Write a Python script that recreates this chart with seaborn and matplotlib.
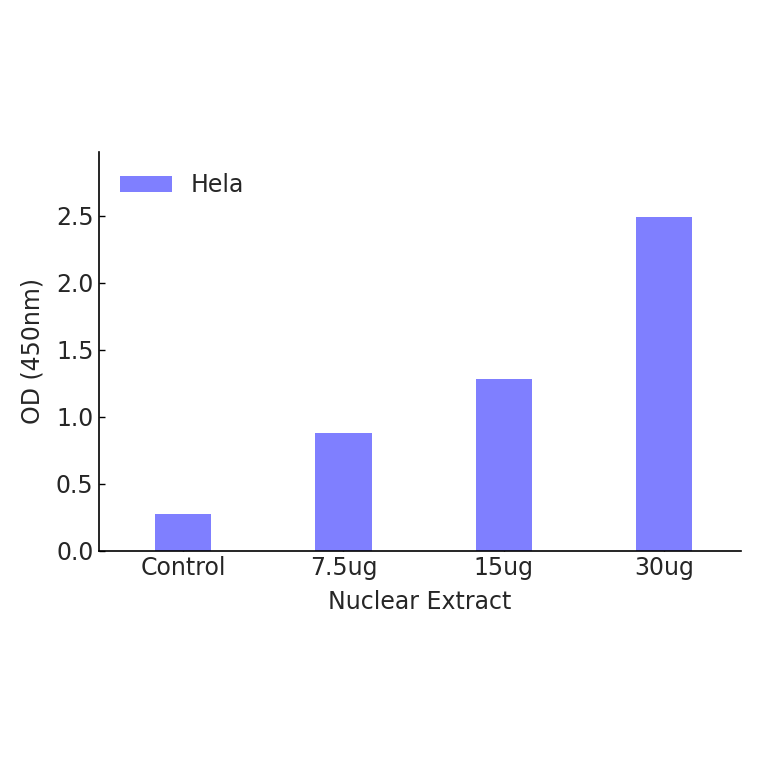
import numpy as np
import pandas as pd
import matplotlib
matplotlib.use('Agg')
import matplotlib.pyplot as plt
import seaborn as sns

## data
categories = ['Control', '7.5ug', '15ug', '30ug']
od_hela = [0.274, 0.878, 1.28, 2.49]
series_name = 'Hela'

df = pd.DataFrame({'sample': categories, 'OD': od_hela, 'cell': series_name})

sns.set_style('white')
plt.rcParams['font.family'] = ['DejaVu Sans']
plt.rcParams.update({'font.size': 17, 'text.color': '#262626',
                     'axes.labelcolor': '#262626'})

fig = plt.figure(figsize=(7.64, 7.64), dpi=100)
ax = fig.add_axes([0.1296, 0.279, 0.8404, 0.522])

sns.barplot(data=df, x='sample', y='OD', hue='cell', palette=['#7f7fff'],
            width=0.35, saturation=1, ax=ax, edgecolor='none')

ax.set_xlim(-0.525, 3.48)
ax.set_ylim(0, max(od_hela) * 1.195)
ax.set_yticks(np.arange(0, 2.51, 0.5))
ax.set_yticklabels([f'{v:.1f}' for v in np.arange(0, 2.51, 0.5)])

ax.spines['top'].set_visible(False)
ax.spines['right'].set_visible(False)
for s in ['left', 'bottom']:
    ax.spines[s].set_linewidth(1.2)
    ax.spines[s].set_color('black')
ax.tick_params(axis='both', direction='in', length=4, width=1, color='black',
               labelcolor='#262626', labelsize=17, left=True, bottom=True, pad=4)

ax.set_xlabel('Nuclear Extract', fontsize=17, labelpad=7)
ax.set_ylabel('OD (450nm)', fontsize=17, labelpad=8)

ax.legend(loc='upper left', frameon=False, fontsize=17, handlelength=2.2,
          handleheight=0.7, borderaxespad=0.5)

fig.savefig('out.png', dpi=100)
